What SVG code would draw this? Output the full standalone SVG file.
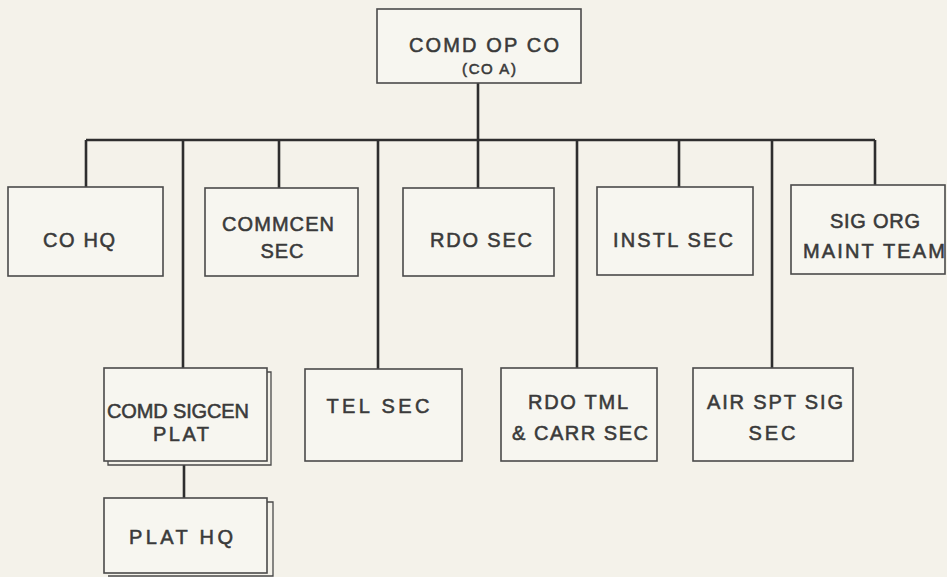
<svg xmlns="http://www.w3.org/2000/svg" width="947" height="577" viewBox="0 0 947 577">
<style>
.bg{fill:#f4f2ea}
.box{fill:#f7f6f0;stroke:#4a4a4a;stroke-width:1.6}
.sh{fill:none;stroke:#4a4a4a;stroke-width:1.3}
.ln{fill:none;stroke:#2e2e2e;stroke-width:2.6}
text{font-family:"Liberation Sans",Arial,sans-serif;font-size:20px;fill:#3a3a3a;stroke:#3a3a3a;stroke-width:0.55;text-anchor:middle}
.sm{font-size:15px}
</style>
<rect class="bg" x="0" y="0" width="947" height="577"/>
<g id="connectors">
<path class="ln" d="M478 83V140M86 140H875M86 140V187M183 140V368M279 140V188M378 140V369M478 140V188M577 140V368M679 140V187M772 140V368M875 140V185M184 465V498"/>
</g>
<g id="comd-op-co">
<rect class="box" x="377" y="9" width="204" height="74"/>
<text x="484" y="52" textLength="150" lengthAdjust="spacing">COMD OP CO</text>
<text class="sm" x="489" y="74" textLength="54" lengthAdjust="spacing">(CO A)</text>
</g>
<g id="co-hq">
<rect class="box" x="8" y="187" width="155" height="89"/>
<text x="79" y="247" textLength="72" lengthAdjust="spacing">CO HQ</text>
</g>
<g id="commcen-sec">
<rect class="box" x="205" y="188" width="153" height="88"/>
<text x="278" y="231" textLength="112" lengthAdjust="spacing">COMMCEN</text>
<text x="282" y="258" textLength="43" lengthAdjust="spacing">SEC</text>
</g>
<g id="rdo-sec">
<rect class="box" x="403" y="188" width="151" height="88"/>
<text x="481" y="247" textLength="102" lengthAdjust="spacing">RDO SEC</text>
</g>
<g id="instl-sec">
<rect class="box" x="597" y="187" width="156" height="88"/>
<text x="673" y="247" textLength="120" lengthAdjust="spacing">INSTL SEC</text>
</g>
<g id="sig-org-maint-team">
<rect class="box" x="791" y="185" width="154" height="89"/>
<text x="875" y="228" textLength="90" lengthAdjust="spacing">SIG ORG</text>
<text x="874" y="258" textLength="142" lengthAdjust="spacing">MAINT TEAM</text>
</g>
<g id="comd-sigcen-plat">
<path class="sh" d="M267 372H271V465H108V461"/>
<rect class="box" x="104" y="368" width="163" height="93"/>
<text x="178" y="418" textLength="142" lengthAdjust="spacing">COMD SIGCEN</text>
<text x="181" y="441" textLength="56" lengthAdjust="spacing">PLAT</text>
</g>
<g id="tel-sec">
<rect class="box" x="305" y="369" width="157" height="92"/>
<text x="378" y="413" textLength="103" lengthAdjust="spacing">TEL SEC</text>
</g>
<g id="plat-hq">
<path class="sh" d="M267 502H273V576H108"/>
<rect class="box" x="104" y="498" width="163" height="75"/>
<text x="181" y="544" textLength="104" lengthAdjust="spacing">PLAT HQ</text>
</g>
<g id="rdo-tml-carr-sec">
<rect class="box" x="501" y="368" width="156" height="93"/>
<text x="578" y="409" textLength="100" lengthAdjust="spacing">RDO TML</text>
<text x="580" y="440" textLength="136" lengthAdjust="spacing">&amp; CARR SEC</text>
</g>
<g id="air-spt-sig-sec">
<rect class="box" x="693" y="368" width="160" height="93"/>
<text x="775" y="409" textLength="136" lengthAdjust="spacing">AIR SPT SIG</text>
<text x="772" y="440" textLength="47" lengthAdjust="spacing">SEC</text>
</g>
</svg>
